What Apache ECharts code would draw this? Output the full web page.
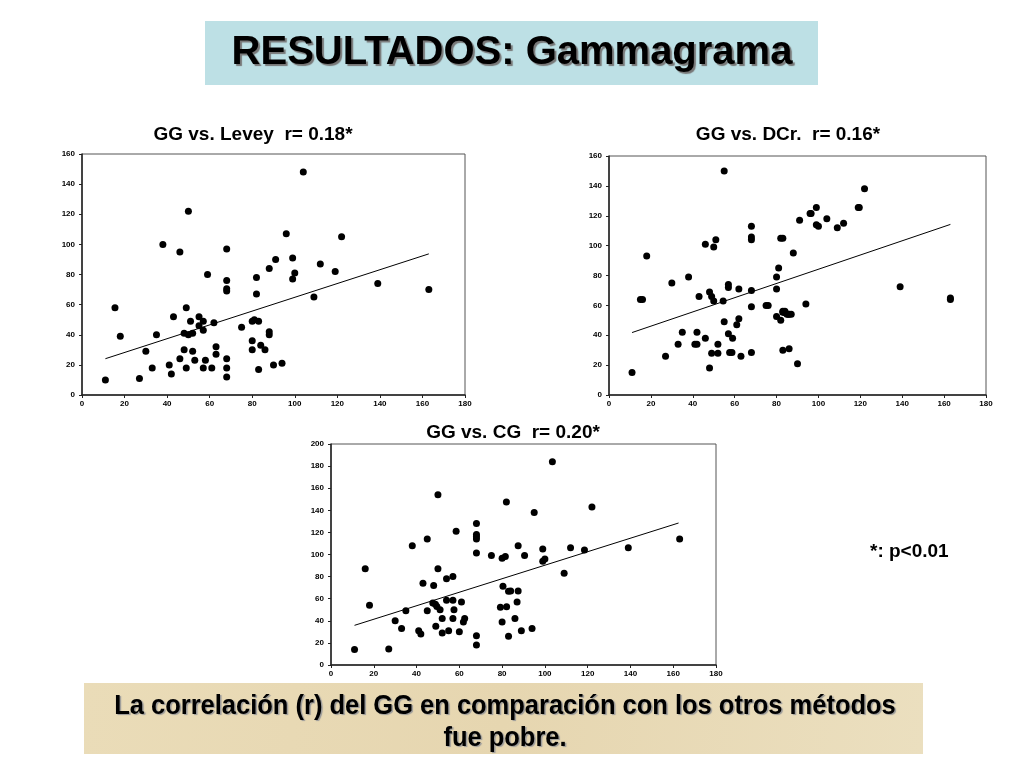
<!DOCTYPE html>
<html>
<head>
<meta charset="utf-8">
<script src="https://cdn.jsdelivr.net/npm/echarts@6/dist/echarts.min.js"></script>
<style>
  html, body { margin: 0; padding: 0; background: #fff; }
  #main { width: 1024px; height: 768px; }
</style>
</head>
<body>
<div id="main"></div>
<script>
// GG vs. Levey
var leveyPts = [[11,10],[15.5,58],[18,39],[27,11],[30,29],[33,18],[35,40],[38,100],[41,20],[42,14],[43,52],[46,95],[46,24],[49,58],[48,30],[48,41],[49,18],[50,122],[51,49],[50,40],[52,41],[52,29],[53,23],[55,52],[55,46],[57,49],[57,43],[57,18],[58,23],[59,80],[61,18],[62,48],[63,32],[63,27],[68,97],[68,76],[68,69],[68,70.5],[68,24],[68,18],[68,12],[75,45],[82,78],[82,67],[80,49],[81,50],[83,49],[80,36],[80,30],[84,33],[86,30],[88,40],[88,42],[83,17],[90,20],[88,84],[91,90],[104,148],[96,107],[122,105],[99,91],[112,87],[100,81],[119,82],[99,77],[139,74],[163,70],[109,65],[94,21]];
var leveyTrend = [[11,24.1],[163,93.7]];

// GG vs. DCr.
var dcrPts = [[11,15],[15,64],[16,64],[18,93],[27,26],[30,75],[33,34],[35,42],[38,79],[41,34],[42,34],[42,42],[43,66],[46,38],[46,101],[48,18],[48,69],[49,28],[49,66],[50,63],[50,99],[51,104],[52,34],[52,28],[54.5,63],[55,150],[55,49],[57,74],[57,72],[57,41],[57.6,28.5],[58.7,28.5],[59,38],[61,47],[62,51],[62,71],[63,26],[68,113],[68,105.7],[68,104],[68,70],[68,59],[68,28.5],[75,60],[76,60],[80,71],[80,79],[81,85],[80,52.5],[82,105],[83,105],[82,50],[83,55.4],[83,30],[84,55],[85.6,54],[88,95],[91,117],[96,121.5],[96.5,121.5],[99,125.5],[99,114],[100,113],[104,118],[109,112],[112,115],[119,125.5],[119.5,125.5],[122,138],[94,61],[83,56],[84,56],[85,54],[86,54],[87,54],[86,31],[90,21],[139,72.5],[163,65],[163,64]];
var dcrTrend = [[11,41.8],[163,114.2]];

// GG vs. CG
var cgPts = [[11,14],[16,87],[18,54],[27,14.5],[30,40],[33,33],[35,49],[38,108],[41,31],[42,28],[43,74],[45,114],[45,49],[48,72],[47.6,56],[48.8,55],[49.5,53],[49,35],[50,154],[50,87],[51,50],[52,42],[52,29],[54,78],[57,80],[54,58.5],[57,58.5],[55,31],[57,42],[57.5,50],[58.5,121],[60,30],[61,57],[61.9,39],[62.5,42],[68,128],[68,118],[68,116],[68,114],[68,101.4],[68,26.5],[68,18],[75,99],[80,96.5],[81.5,98.3],[80.4,71.2],[80,39],[79.2,52.2],[82.1,52.8],[82,147.5],[83,26],[83,66.7],[103.5,184],[95,138],[122,143],[163,114],[139,106],[112,106],[118.5,104],[87.5,108],[99,105],[90.5,99],[100,96],[99,94],[109,83],[84,67],[87.5,67],[87,57],[86,42],[89,31],[94,33]];
var cgTrend = [[11,35.9],[162.5,128.5]];

var xMax = 180, xStep = 20;
var yMaxes = [160, 160, 200];
var yStep = 20;
var panelTitles = ['GG vs. Levey  r= 0.18*', 'GG vs. DCr.  r= 0.16*', 'GG vs. CG  r= 0.20*'];

var chart = echarts.init(document.getElementById('main'));

var grids = [
  { left: 82, top: 154, width: 383, height: 241 },
  { left: 609, top: 156, width: 377, height: 239 },
  { left: 331, top: 444, width: 385, height: 221 }
];

var tickFont = { fontSize: 8, color: '#000', fontFamily: 'Liberation Sans', fontWeight: 'bold' };
var headFont = 'bold 19px "Liberation Sans", Arial';

var option = {
  backgroundColor: '#fff',
  animation: false,
  graphic: [
    { type: 'rect', shape: { x: 205, y: 21, width: 613, height: 64 }, style: { fill: '#bde0e5' }, z: -1 },
    { type: 'rect', shape: { x: 84, y: 683, width: 839, height: 71 },
      style: { fill: new echarts.graphic.LinearGradient(0, 0, 1, 1, [
        { offset: 0, color: '#eadcb8' }, { offset: 0.5, color: '#e6d6b0' }, { offset: 1, color: '#ebdfbf' }]) }, z: -1 },
    { type: 'text', left: 'center', top: 33, z: 10,
      style: { text: 'RESULTADOS: Gammagrama', font: 'bold 40px "Liberation Sans", Arial', fill: '#000',
        textShadowColor: '#777', textShadowOffsetX: 2, textShadowOffsetY: 2, textShadowBlur: 1 } },
    { type: 'text', x: 505, y: 690, scaleX: 0.91, z: 10,
      style: { text: 'La correlación (r) del GG en comparación con los otros métodos\nfue pobre.',
        font: 'bold 28px "Liberation Sans", Arial', fill: '#000', align: 'center',
        lineHeight: 32, textShadowColor: '#999', textShadowOffsetX: 1.5, textShadowOffsetY: 1.5, textShadowBlur: 1 } },
    { type: 'text', x: 870, y: 542, z: 10,
      style: { text: '*: p<0.01', font: headFont, fill: '#000' } },
    { type: 'text', x: 253, y: 125, z: 10,
      style: { text: panelTitles[0], font: headFont, fill: '#000', align: 'center' } },
    { type: 'text', x: 788, y: 125, z: 10,
      style: { text: panelTitles[1], font: headFont, fill: '#000', align: 'center' } },
    { type: 'text', x: 513, y: 423, z: 10,
      style: { text: panelTitles[2], font: headFont, fill: '#000', align: 'center' } }
  ],
  grid: grids.map(function (g) {
    return Object.assign({ show: true, backgroundColor: '#fff', borderColor: '#555', borderWidth: 1, containLabel: false }, g);
  }),
  xAxis: [0, 1, 2].map(function (i) {
    return {
      type: 'value', gridIndex: i, min: 0, max: xMax, interval: xStep,
      axisLine: { show: true, lineStyle: { color: '#222', width: 1.5 } },
      axisTick: { show: true, length: 3, lineStyle: { color: '#222' } },
      axisLabel: Object.assign({ margin: 5 }, tickFont),
      splitLine: { show: false }
    };
  }),
  yAxis: [0, 1, 2].map(function (i) {
    return {
      type: 'value', gridIndex: i, min: 0, max: yMaxes[i], interval: yStep,
      axisLine: { show: true, lineStyle: { color: '#222', width: 1.5 } },
      axisTick: { show: true, length: 3, lineStyle: { color: '#222' } },
      axisLabel: Object.assign({ margin: 7 }, tickFont),
      splitLine: { show: false }
    };
  }),
  series: []
};

[[leveyPts, leveyTrend], [dcrPts, dcrTrend], [cgPts, cgTrend]].forEach(function (pair, i) {
  option.series.push({
    type: 'scatter', xAxisIndex: i, yAxisIndex: i, data: pair[0],
    symbol: 'circle', symbolSize: 7, itemStyle: { color: '#000', opacity: 1 }, silent: true
  });
  option.series.push({
    type: 'line', xAxisIndex: i, yAxisIndex: i, data: pair[1],
    symbol: 'none', lineStyle: { color: '#000', width: 1 }, silent: true
  });
});

chart.setOption(option);
</script>
</body>
</html>
